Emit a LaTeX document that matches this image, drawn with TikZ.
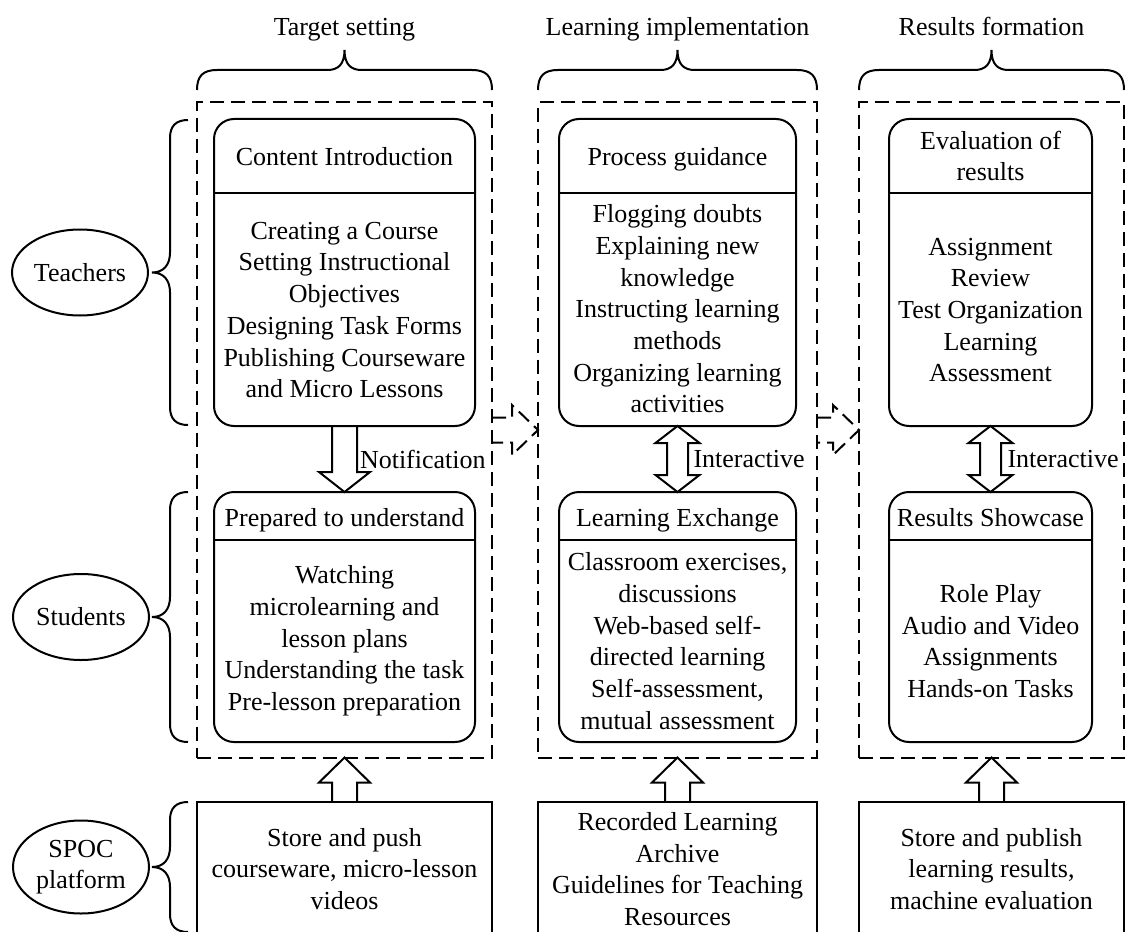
\documentclass[tikz,border=0pt]{standalone}
\usepackage{fontspec}
\setmainfont{Liberation Serif}
\usetikzlibrary{calc,shapes.geometric}

\begin{document}
\begin{tikzpicture}[x=1pt,y=-1pt,line width=2pt,
    font=\fontsize{26}{31.7}\selectfont,
    dashline/.style={dash pattern=on 14pt off 7pt},
    stage/.style={draw,dashline,minimum height=655pt,inner sep=0,outer sep=0},
    card/.style={draw,rounded corners=20pt,inner sep=0,outer sep=0},
    platform/.style={align=center,inner sep=0,outer sep=0,minimum height=134pt},
    role/.style={draw,ellipse,align=center,inner sep=0,outer sep=0,minimum width=136pt,minimum height=86pt},
    txt/.style={align=center,inner sep=0},
    notify/.style={to path={
      ($(\tikztostart)+(-12.5,0)$) -- ($(\tikztotarget)+(-12.5,#1)$) -- ($(\tikztotarget)+(-25.5,#1)$)
      -- (\tikztotarget) -- ($(\tikztotarget)+(25.5,#1)$) -- ($(\tikztotarget)+(12.5,#1)$) -- ($(\tikztostart)+(12.5,0)$)}},
    interact/.style={to path={
      (\tikztostart) -- ($(\tikztostart)+(22,17)$) -- ($(\tikztostart)+(10.5,17)$) -- ($(\tikztotarget)+(10.5,-17)$)
      -- ($(\tikztotarget)+(22,-17)$) -- (\tikztotarget) -- ($(\tikztotarget)+(-22,-17)$) -- ($(\tikztotarget)+(-10.5,-17)$)
      -- ($(\tikztostart)+(-10.5,17)$) -- ($(\tikztostart)+(-22,17)$) -- cycle}},
    flowright/.style={to path={
      ($(\tikztostart)+(0,-12.5)$) -- ($(\tikztotarget)+(-26,-12.5)$) -- ($(\tikztotarget)+(-26,-25)$)
      -- (\tikztotarget) -- ($(\tikztotarget)+(-26,25)$) -- ($(\tikztotarget)+(-26,12.5)$) -- ($(\tikztostart)+(0,12.5)$)}}]
  \useasboundingbox (0,0) rectangle (1126,931);

  % stages
  \node[stage,minimum width=295pt] (setting) at (344.5,430) {};
  \node[stage,minimum width=279pt] (implement) at (677.5,430) {};
  \node[stage,minimum width=265pt] (formation) at (991.5,430) {};

  \node[anchor=base] (ttarget) at (344.5,36) {Target setting};
  \node[anchor=base] (tlearn) at (677.5,36) {Learning implementation};
  \node[anchor=base] (tresult) at (991.5,36) {Results formation};

  \foreach \l/\r in {197/492,538/817,859/1124}{
    \pgfmathsetmacro{\m}{(\l+\r)/2}
    \draw (\l,90) .. controls (\l,76) and (\l+6,70) .. (\l+20,70) -- (\m-17,70)
      .. controls (\m-6,70) and (\m,64) .. (\m,50) .. controls (\m,64) and (\m+6,70) .. (\m+17,70)
      -- (\r-20,70) .. controls (\r-6,70) and (\r,76) .. (\r,90);
  }

  % target setting
  \node[card,minimum width=261pt,minimum height=307pt] (intro) at (344.5,272.5) {};
  \draw (intro.west |- 0,193) -- (intro.east |- 0,193);
  \node[txt,anchor=base] (introhd) at (344.5,165) {Content Introduction};
  \node[txt] (introbd) at (344.5,310) {Creating a Course\\Setting Instructional\\Objectives\\Designing Task Forms\\Publishing Courseware\\and Micro Lessons};

  \node[card,minimum width=261pt,minimum height=250pt] (prep) at (344.5,617) {};
  \draw (prep.west |- 0,540) -- (prep.east |- 0,540);
  \node[txt,anchor=base] (prephd) at (344.5,526) {Prepared to understand};
  \node[txt] (prepbd) at (344.5,641) {Watching\\microlearning and\\lesson plans\\Understanding the task\\Pre-lesson preparation};

  \draw[notify=-20] (intro.south) to (prep.north);
  \node[txt,anchor=west] (notelbl) at ($(intro.south)!.5!(prep.north)+(14.5,0)$) {Notification};

  % learning implementation
  \node[card,minimum width=237pt,minimum height=307pt] (guide) at (677.5,272.5) {};
  \draw (guide.west |- 0,193) -- (guide.east |- 0,193);
  \node[txt,anchor=base] (guidehd) at (677.5,165) {Process guidance};
  \node[txt] (guidebd) at (677.5,309) {Flogging doubts\\Explaining new\\knowledge\\Instructing learning\\methods\\Organizing learning\\activities};

  \node[card,minimum width=237pt,minimum height=250pt] (exch) at (677.5,617) {};
  \draw (exch.west |- 0,540) -- (exch.east |- 0,540);
  \node[txt,anchor=base] (exchhd) at (677.5,526) {Learning Exchange};
  \node[txt] (exchbd) at (677.5,641) {Classroom exercises,\\discussions\\Web-based self-\\directed learning\\Self-assessment,\\mutual assessment};

  \draw[interact] (guide.south) to (exch.north);
  \node[txt,anchor=west] (guidelbl) at ($(guide.south)!.5!(exch.north)+(15,0)$) {Interactive};

  % results formation
  \node[card,minimum width=203pt,minimum height=307pt] (evalres) at (990.5,272.5) {};
  \draw (evalres.west |- 0,193) -- (evalres.east |- 0,193);
  \node[txt] (evalhd) at (990.5,156) {Evaluation of\\results};
  \node[txt] (evalbd) at (990.5,310) {Assignment\\Review\\Test Organization\\Learning\\Assessment};

  \node[card,minimum width=203pt,minimum height=250pt] (show) at (990.5,617) {};
  \draw (show.west |- 0,540) -- (show.east |- 0,540);
  \node[txt,anchor=base] (showhd) at (990.5,526) {Results Showcase};
  \node[txt] (showbd) at (990.5,641) {Role Play\\Audio and Video\\Assignments\\Hands-on Tasks};

  \draw[interact] (evalres.south) to (show.north);
  \node[txt,anchor=west] (evallbl) at ($(evalres.south)!.5!(show.north)+(16,0)$) {Interactive};

  % flow between stages
  \draw[dashline,flowright] (setting.east) to (implement.west);
  \draw[dashline,flowright] (implement.east) to (formation.west);

  % SPOC platform
  \node[platform,minimum width=295pt] (store) at (344.5,869) {Store and push\\courseware, micro-lesson\\videos};
  \node[platform,minimum width=279pt] (archive) at (677.5,869) {Recorded Learning\\Archive\\Guidelines for Teaching\\Resources};
  \node[platform,minimum width=265pt] (publish) at (991.5,869) {Store and publish\\learning results,\\machine evaluation};
  \foreach \p in {store,archive,publish}
    \draw (\p.south west) -- (\p.north west) -- (\p.north east) -- (\p.south east);

  \draw[notify=25] (store.north) to (setting.south);
  \draw[notify=25] (archive.north) to (implement.south);
  \draw[notify=25] (publish.north) to (formation.south);

  % roles
  \node[role] (teach) at (80,272.5) {Teachers};
  \node[role] (stud) at (81,617) {Students};
  \node[role,minimum height=93pt] (spoc) at (81,867) {SPOC\\platform};

  \foreach \t/\b in {120/425,492/742,802/932}{
    \pgfmathsetmacro{\m}{(\t+\b)/2}
    \draw (188,\t) .. controls (176,\t) and (170,\t+6) .. (170,\t+18) -- (170,\m-20)
      .. controls (170,\m-8) and (164,\m) .. (152,\m) .. controls (164,\m) and (170,\m+8) .. (170,\m+20)
      -- (170,\b-18) .. controls (170,\b-6) and (176,\b) .. (188,\b);
  }
\end{tikzpicture}
\end{document}
